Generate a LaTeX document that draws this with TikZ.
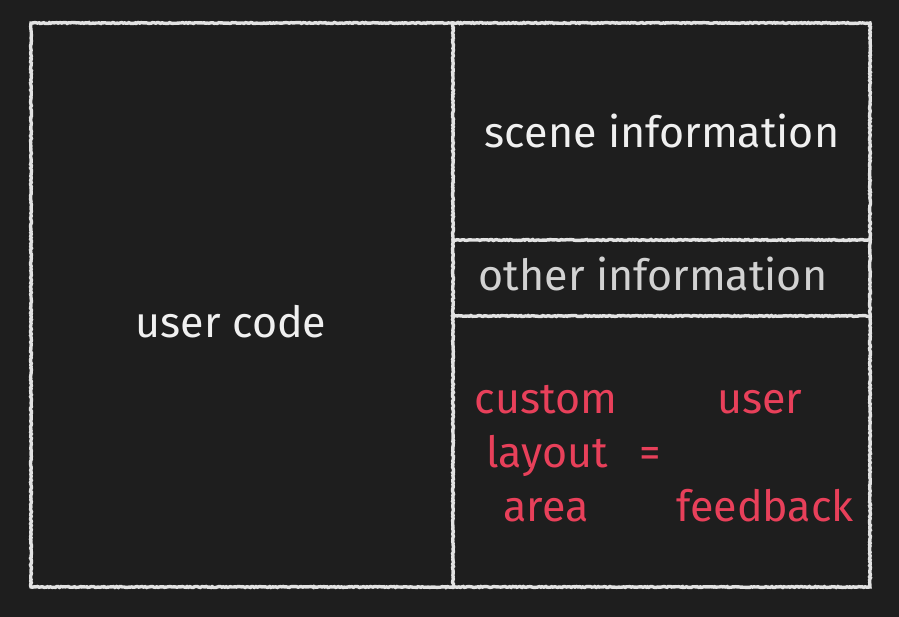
\documentclass[tikz,border=0pt]{standalone}
\usepackage{fontspec}
\setmainfont{Fira Sans}
\usepackage{xcolor}
\usetikzlibrary{decorations.pathmorphing}

\definecolor{board}{HTML}{1E1E1E}
\definecolor{chalk}{HTML}{E2E2E2}
\definecolor{dimchalk}{HTML}{D2D2D2}
\definecolor{rosered}{HTML}{E8405A}

\tikzset{
    chalkline/.style={draw=chalk, line width=3.4pt, line cap=rect,
        decorate, decoration={random steps, segment length=1.5pt, amplitude=0.5pt}},
    label/.style={text=white!94!black, font=\fontsize{43}{48}\selectfont,
        inner sep=0pt, anchor=base},
    pinklabel/.style={label, text=rosered}
}

\begin{document}
\begin{tikzpicture}[x=1pt,y=1pt]
    \fill[board] (0,0) rectangle (899,617);
    \useasboundingbox (0,0) rectangle (899,617);

    % frame and dividers
    \coordinate (tl) at (31,594);
    \coordinate (br) at (870,30);
    \draw[chalkline] (tl) rectangle (br);
    \draw[chalkline] (453,594) -- (453,30);
    \draw[chalkline] (453,377) -- (870,377);
    \draw[chalkline] (453,301) -- (870,301);

    \node[label] (usercode) at (231,279) {user code};
    \node[label] (scene) at (662,469) {scene information};
    \node[label, text=dimchalk] (other) at (653,326) {other information};

    \foreach \name/\x/\y/\txt in {custom/546/203/custom, layout/547/149/layout,
        area/546/95/area, equals/650/149/=, user/760/203/user, feedback/765/95/feedback}{
        \node[pinklabel] (\name) at (\x,\y) {\txt};
    }
\end{tikzpicture}
\end{document}
